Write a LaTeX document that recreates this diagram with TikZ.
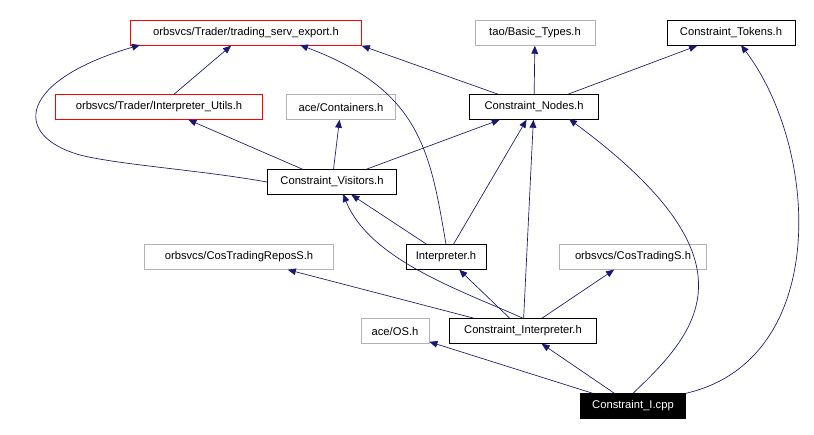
\documentclass[tikz,border=0pt]{standalone}
\usepackage{fontspec}
\setmainfont{Liberation Sans}
\usetikzlibrary{arrows.meta}
\definecolor{edgecolor}{rgb}{0.098,0.098,0.439}
\tikzset{
  file/.style={draw=black,fill=white,inner sep=0pt,minimum height=18.5pt,font=\fontsize{8.4}{10}\selectfont,line width=0.6pt},
  missing/.style={file,draw=gray!60},
  trader/.style={file,draw=red},
  root/.style={file,fill=black,text=white},
  dep/.style={draw=edgecolor,line width=0.5pt,-{Triangle[length=6pt,width=5pt]}}
}
\begin{document}
\begin{tikzpicture}[x=0.75pt,y=-0.75pt]
\useasboundingbox (0,0) rectangle (814,435);
% headers
\node[trader,minimum width=173pt] (export) at (246,33) {orbsvcs/Trader/trading\_serv\_export.h};
\node[missing,minimum width=90pt] (basic) at (535,33) {tao/Basic\_Types.h};
\node[file,minimum width=96pt] (tokens) at (731,33) {Constraint\_Tokens.h};
\node[trader,minimum width=155pt] (utils) at (159,107) {orbsvcs/Trader/Interpreter\_Utils.h};
\node[missing,minimum width=82pt] (cont) at (341,107) {ace/Containers.h};
\node[file,minimum width=97pt] (nodes) at (534,107) {Constraint\_Nodes.h};
\node[file,minimum width=97pt] (visit) at (332,182) {Constraint\_Visitors.h};
\node[missing,minimum width=142pt] (repos) at (239,257) {orbsvcs/CosTradingReposS.h};
\node[file,minimum width=60pt] (interp) at (446,257) {Interpreter.h};
\node[missing,minimum width=110pt] (trading) at (633,257) {orbsvcs/CosTradingS.h};
\node[missing,minimum width=51pt] (os) at (395,331) {ace/OS.h};
\node[file,minimum width=110pt] (cinterp) at (523,331) {Constraint\_Interpreter.h};
\node[root,minimum width=79pt] (cpp) at (633,406) {Constraint\_I.cpp};
% includes
\draw[dep] (utils) -- (export);
\draw[dep] (visit.west) .. controls (200,170) and (120,165) .. (80,155)
  .. controls (10,135) and (20,80) .. (140,45);
\draw[dep] (nodes) -- (export.south east);
\draw[dep] (interp.north) .. controls (430,150) and (420,90) .. (300,45);
\draw[dep] (nodes) -- (basic);
\draw[dep] (nodes) -- (tokens);
\draw[dep] (visit) -- (utils);
\draw[dep] (visit) -- (cont);
\draw[dep] (visit) -- (nodes);
\draw[dep] (interp) -- (visit);
\draw[dep] (interp) -- (nodes);
\draw[dep] (cinterp.north) .. controls (460,290) and (370,260) .. (343,194);
\draw[dep] (cinterp) -- (interp);
\draw[dep] (cinterp) -- (nodes);
\draw[dep] (cinterp) -- (repos);
\draw[dep] (cinterp) -- (trading);
\draw[dep] (cpp) -- (os);
\draw[dep] (cpp) -- (cinterp);
\draw[dep] (cpp.north) .. controls (700,330) and (760,260) .. (569,119);
\draw[dep] (cpp.north east) .. controls (830,360) and (820,150) .. (741,45);
\end{tikzpicture}
\end{document}
